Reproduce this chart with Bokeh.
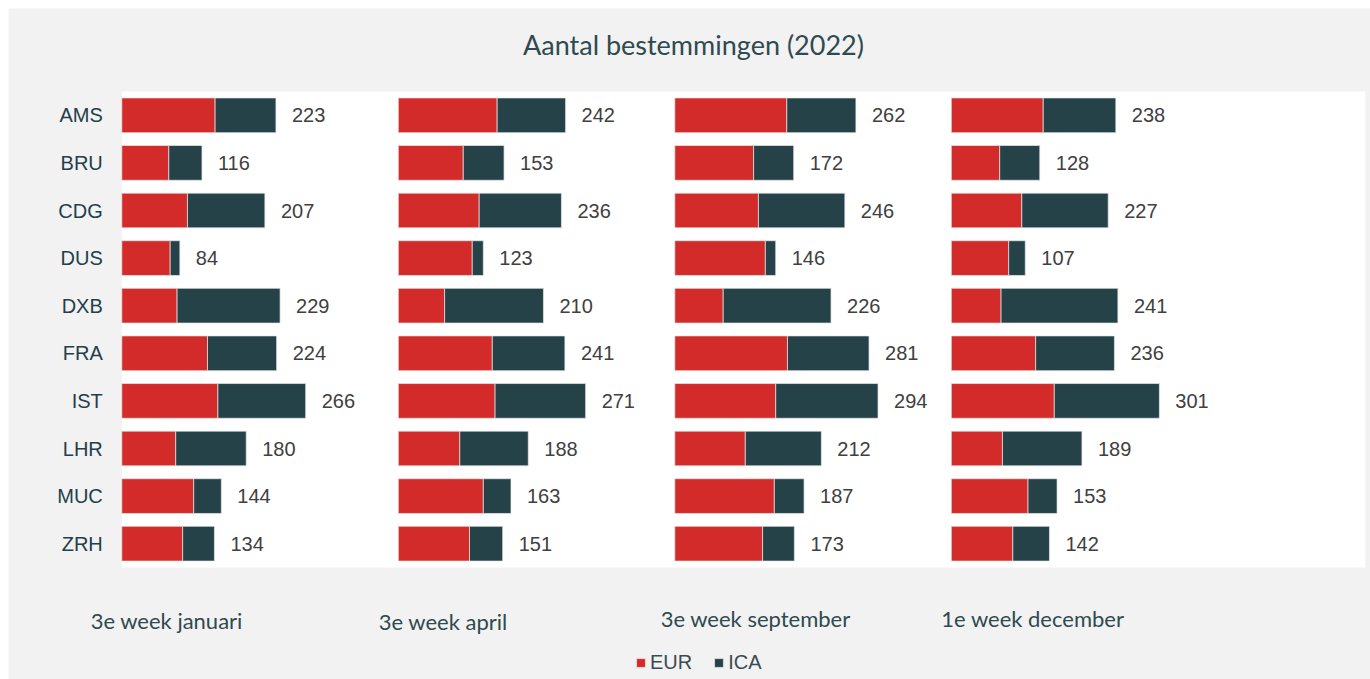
from bokeh.plotting import figure
from bokeh.models import (ColumnDataSource, Range1d, Legend, LegendItem, Label, BoxAnnotation)
from bokeh.core.properties import value
from bokeh.embed import file_html
from bokeh.resources import INLINE

airports = ["AMS", "BRU", "CDG", "DUS", "DXB", "FRA", "IST", "LHR", "MUC", "ZRH"]
periods = ["3e week januari", "3e week april", "3e week september", "1e week december"]
series = ["EUR", "ICA"]

eur_jan = [135, 68, 95, 70, 80, 124, 139, 78, 104, 88]
ica_jan = [88, 48, 112, 14, 149, 100, 127, 102, 40, 46]
eur_apr = [143, 94, 117, 107, 67, 136, 140, 89, 123, 103]
ica_apr = [99, 59, 119, 16, 143, 105, 131, 99, 40, 48]
eur_sep = [162, 114, 121, 131, 70, 163, 146, 102, 144, 127]
ica_sep = [100, 58, 125, 15, 156, 118, 148, 110, 43, 46]
eur_dec = [133, 70, 102, 83, 72, 122, 149, 74, 111, 89]
ica_dec = [105, 58, 125, 24, 169, 114, 152, 115, 42, 53]

eur_all = [eur_jan, eur_apr, eur_sep, eur_dec]
ica_all = [ica_jan, ica_apr, ica_sep, ica_dec]

PANEL = 400  # axis maximum of each small panel
RED = "#D32B2A"
TEAL = "#264249"
BG = "#F2F2F2"

W, H = 1362, 671
PX_PER_UNIT = 0.69125     # horizontal scale (px per destination)
ROW_PX = 47.6             # vertical size of one airport row
LEFT_PX, TOP_PX = 113.3, 83   # white plotting area offset inside the canvas
n = len(airports)
ypos = list(range(n))

x0 = -LEFT_PX / PX_PER_UNIT
y0 = -0.5 - TOP_PX / ROW_PX
p = figure(width=W, height=H, output_backend="svg", toolbar_location=None,
           x_range=Range1d(x0, x0 + W / PX_PER_UNIT),
           y_range=Range1d(y0 + H / ROW_PX, y0),
           min_border=0, min_border_left=0, min_border_right=0,
           min_border_top=0, min_border_bottom=0)
p.margin = (8, 0, 0, 8)
p.background_fill_color = BG
p.border_fill_color = BG
p.outline_line_color = None
p.grid.visible = False
p.axis.visible = False

# white plotting area behind the bars
p.add_layout(BoxAnnotation(left=0, right=1799, top=-0.5, bottom=n - 0.5,
                           fill_color="white", fill_alpha=1, line_color=None, level="underlay"))

# airport names
cat_src = ColumnDataSource(dict(y=ypos, name=airports, x=[0] * n))
p.text(x="x", y="y", text="name", source=cat_src, x_offset=-19,
       text_align="right", text_baseline="middle",
       text_font=value("Liberation Sans"), text_font_size="20px", text_color="#23404A")

r_eur = r_ica = None
for i in range(4):
    off = i * PANEL
    eur = eur_all[i]
    ica = ica_all[i]
    tot = [e + c for e, c in zip(eur, ica)]
    src = ColumnDataSource(dict(
        y=ypos,
        name=airports,
        left=[off] * n,
        mid=[off + e for e in eur],
        right=[off + t for t in tot],
        lab=[str(t) for t in tot],
    ))
    re_ = p.hbar(y="y", left="left", right="mid", height=0.73, source=src,
                 fill_color=RED, line_color="#E8E8E8", line_width=1, line_alpha=0.7)
    ri_ = p.hbar(y="y", left="mid", right="right", height=0.73, source=src,
                 fill_color=TEAL, line_color="#E8E8E8", line_width=1, line_alpha=0.7)
    if r_eur is None:
        r_eur, r_ica = re_, ri_
    p.text(x="right", y="y", text="lab", source=src, x_offset=16,
           text_align="left", text_baseline="middle",
           text_font=value("Liberation Sans"), text_font_size="20px", text_color="#404040")

# Title
p.add_layout(Label(x=827, y=-1.49, text="Aantal bestemmingen (2022)",
                   text_align="center", text_baseline="alphabetic",
                   text_font="Lato", text_font_size="27px", text_color="#2F4A50"))

# Period captions under each panel
cap_x = [65, 465, 917, 1318]
cap_y = [10.61, 10.63, 10.57, 10.57]
for t, cx, cy in zip(periods, cap_x, cap_y):
    p.add_layout(Label(x=cx, y=cy, text=t, text_align="center", text_baseline="middle",
                       text_font="Lato", text_font_size="22px", text_color="#2F4A50"))

legend = Legend(items=[LegendItem(label=series[0], renderers=[r_eur]),
                       LegendItem(label=series[1], renderers=[r_ica])],
                orientation="horizontal", location=(627, 5),
                glyph_width=11, glyph_height=11, label_standoff=4, spacing=21,
                padding=0, margin=0, background_fill_alpha=0, border_line_color=None,
                label_text_font="Liberation Sans", label_text_font_size="20px",
                label_text_color="#3B4B52", label_height=14)
p.add_layout(legend)

open("out.html", "w").write(file_html(p, INLINE))
